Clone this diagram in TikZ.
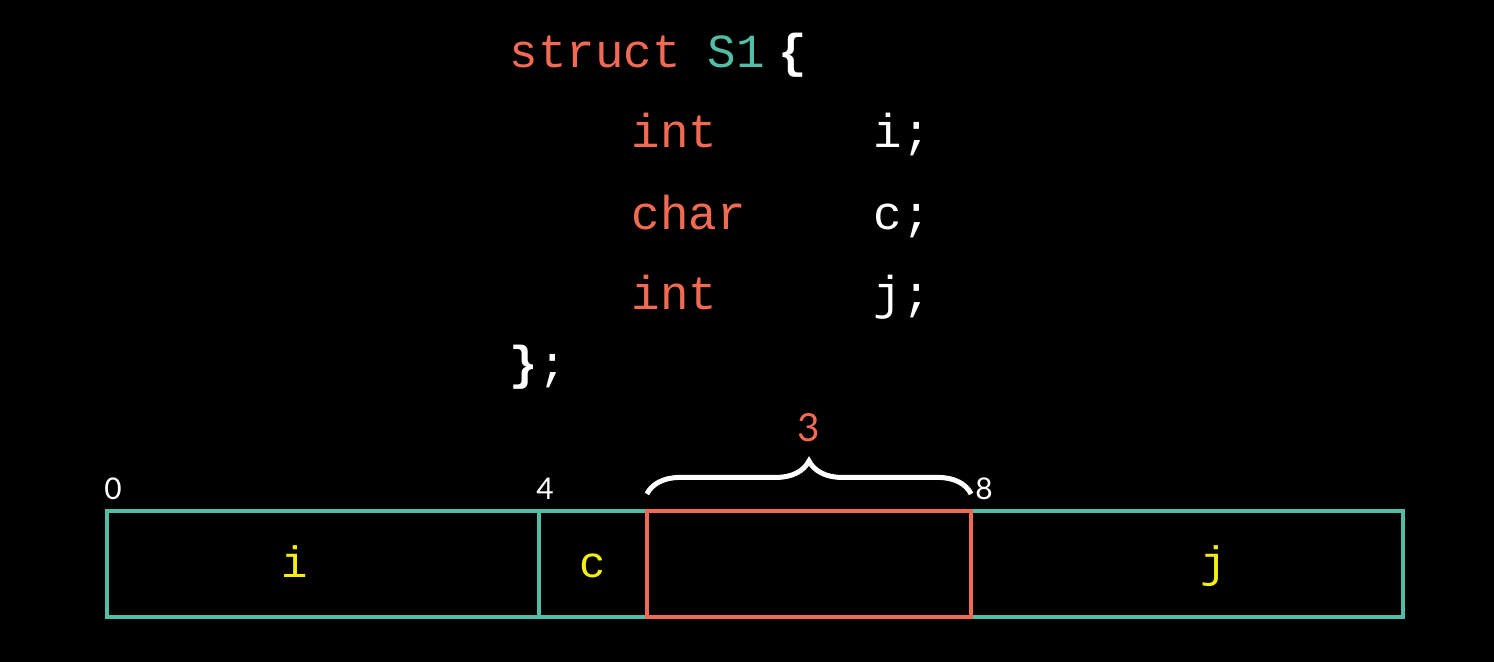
\documentclass[tikz,border=0pt]{standalone}
\usepackage{fontspec}
\setmonofont{Liberation Mono}
\newfontfamily\numfont{Lato}
\usetikzlibrary{decorations.pathreplacing}
\definecolor{coral}{RGB}{242,106,84}
\definecolor{mint}{RGB}{82,190,166}
\definecolor{lemon}{RGB}{245,238,20}

\begin{document}
\begin{tikzpicture}[x=0.01cm, y=-0.01cm,
    code/.style={font=\ttfamily\fontsize{13.5}{13.5}\selectfont, text=white, anchor=base west, inner sep=0pt},
    kw/.style={code, text=coral},
    field/.style={font=\ttfamily\fontsize{12.5}{12.5}\selectfont, text=lemon, anchor=base, inner sep=0pt},
    offset/.style={font=\numfont\fontsize{8.5}{8.5}\selectfont, text=white, anchor=base, inner sep=0pt},
    cell/.style={draw=mint, line width=0.04cm, inner sep=0pt, minimum height=1.06cm},
    pad/.style={cell, draw=coral}]
\fill[black] (0,0) rectangle (1494,662);
\node[kw]   (head) at (509,68) {struct};
\node[code, text=mint] (name) at (707,68) {S1};
\node[code] (open) at (778,68) {\textbf{\{}};
\node[kw]   (ti) at (631,148) {int};
\node[code] (ni) at (873,148) {i;};
\node[kw]   (tc) at (631,230) {char};
\node[code] (nc) at (873,230) {c;};
\node[kw]   (tj) at (631,310) {int};
\node[code] (nj) at (873,310) {j;};
\node[code] (tail) at (509,380) {\textbf{\}};};
\node[cell, minimum width=4.32cm] (celli) at (323,564) {};
\node[cell, minimum width=1.08cm] (cellc) at (593,564) {};
\node[cell, minimum width=4.32cm] (cellj) at (1187,564) {};
\node[pad, minimum width=3.24cm] (gap) at (809,564) {};
\node[field] (li) at (295,578) {i};
\node[field] (lc) at (593,578) {c};
\node[field] (lj) at (1214,578) {j};
\node[offset] (o0) at (113,500) {0};
\node[offset] (o4) at (545,500) {4};
\node[offset] (o8) at (984,500) {8};
\draw[white, line width=0.05cm, decorate, decoration={brace, amplitude=0.33cm}]
    ([xshift=0.02cm, yshift=0.15cm]gap.north west) -- ([xshift=-0.02cm, yshift=0.15cm]gap.north east)
    node[midway, above=0.5cm, inner sep=0pt, text=coral, font=\numfont\fontsize{11}{11}\selectfont] (n3) {3};
\end{tikzpicture}
\end{document}
